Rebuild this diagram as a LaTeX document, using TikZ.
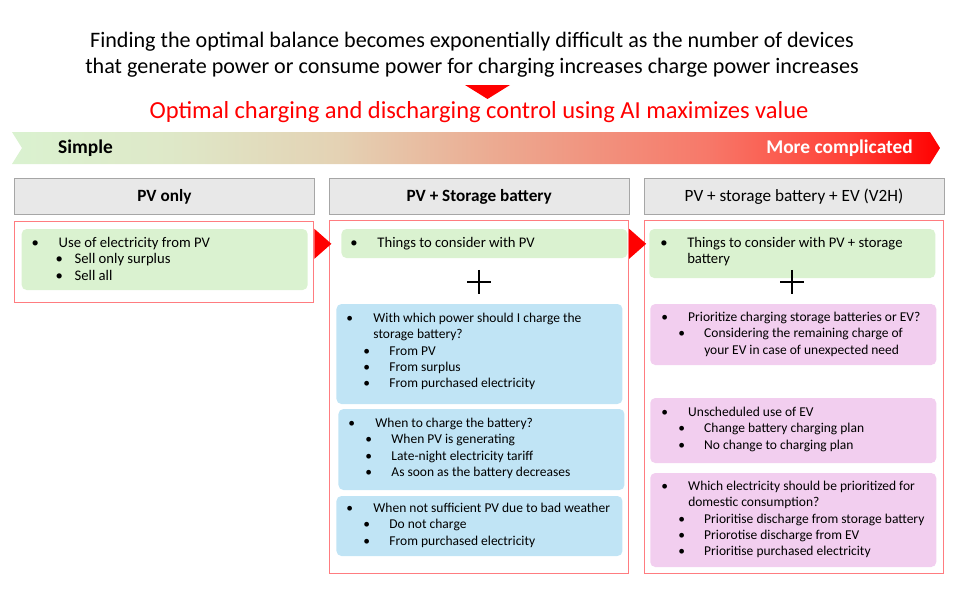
\documentclass[tikz,border=0pt]{standalone}
\usepackage{fontspec}
\setmainfont{Carlito}
\usetikzlibrary{positioning, calc}

\definecolor{boxgreen}{HTML}{DAF2D0}
\definecolor{boxblue}{HTML}{C0E4F5}
\definecolor{boxpink}{HTML}{F2CEEF}
\definecolor{headgray}{HTML}{E8E8E8}
\definecolor{headline}{HTML}{A6A6A6}
\definecolor{framered}{HTML}{FF7C80}

% complexity gradient (path is fitted to 25bp..75bp)
\pgfdeclarehorizontalshading{complexity}{100bp}{
    rgb(0bp)=(0.855,0.949,0.816);
    rgb(25bp)=(0.855,0.949,0.816);
    rgb(33.5bp)=(0.871,0.910,0.784);
    rgb(42.5bp)=(0.894,0.824,0.706);
    rgb(51bp)=(0.925,0.667,0.569);
    rgb(62.5bp)=(0.969,0.471,0.412);
    rgb(70bp)=(1,0.255,0.216);
    rgb(75bp)=(1,0,0);
    rgb(100bp)=(1,0,0)}

% bullet lines
\newcommand\itm[1]{\makebox[27pt][l]{\textbullet}#1}
\newcommand\subitm[2][17pt]{\hspace*{#1}\makebox[\dimexpr43pt-#1\relax][l]{\textbullet}#2}
\newcommand\cont[1]{\hspace*{27pt}#1}
\newcommand\subcont[1]{\hspace*{43pt}#1}

\tikzset{
    head/.style={
        rectangle, draw=headline, fill=headgray, line width=0.8pt,
        minimum width=300pt, minimum height=36pt, inner sep=0pt,
        text height=13pt, text depth=2pt,
        font=\fontsize{17.2}{20}\selectfont
    },
    stagebox/.style={
        rectangle, draw=framered, line width=0.9pt,
        minimum width=299pt, inner sep=0pt
    },
    card/.style={
        rectangle, rounded corners=5pt, fill=#1,
        minimum width=286pt, inner sep=0pt, anchor=north west
    },
    body/.style={
        font=\fontsize{#1}{16.3}\selectfont,
        align=left, inner sep=0pt, anchor=north west
    },
    body/.default=14.67,
    barlabel/.style={font=\fontsize{19.4}{23}\selectfont\bfseries, inner sep=0pt},
    plus/.style={line width=1.6pt}
}

\begin{document}
\begin{tikzpicture}[x=1pt, y=-1pt, node distance=14pt]
    \useasboundingbox (0,0) rectangle (960,600);

    % Title and claim
    \node[font=\fontsize{22.1}{26}\selectfont, align=center, anchor=north, inner sep=0pt] (title) at (472,29)
        {\strut Finding the optimal balance becomes exponentially difficult as the number of devices\\
         that generate power or consume power for charging increases charge power increases};
    \fill[red] (465,85) -- (510,85) -- (487.5,99) -- cycle;
    \node[font=\fontsize{24.5}{29}\selectfont, text=red, anchor=base, inner sep=0pt] (claim) at (479,118)
        {Optimal charging and discharging control using AI maximizes value};

    % Complexity bar
    \shade[shading=complexity]
        (12,132) -- (930,132) -- (940,148) -- (930,164) -- (12,164) -- (22,148) -- cycle;
    \node[barlabel, anchor=base west] (simple) at (58,153) {Simple};
    \node[barlabel, text=white, anchor=base east] (complex) at (913,153) {More complicated};

    % Stage headers
    \node[head, anchor=north west] (h1) at (14,178) {\bfseries PV only};
    \node[head, right=of h1] (h2) {\bfseries PV + Storage battery};
    \node[head, right=of h2] (h3) {PV + storage battery + EV (V2H)};

    % Stage frames
    \node[stagebox, minimum height=81pt, below=6pt of h1] (c1) {};
    \node[stagebox, minimum height=353pt, below=5pt of h2] (c2) {};
    \node[stagebox, minimum height=353pt, below=5pt of h3] (c3) {};

    % Arrows between stages
    \fill[red] ($(c1.north east)+(0,8)$) -- ++(17,15) -- ++(-17,15) -- cycle;
    \fill[red] ($(c2.north east)+(0,9)$) -- ++(17,15) -- ++(-17,15) -- cycle;

    % Stage 1
    \node[card=boxgreen, minimum height=61pt] (g1) at ($(c1.north west)+(7,8)$) {};
    \node[body] (g1-text) at ($(g1.north west)+(10,7)$)
        {\strut\itm{Use of electricity from PV}\\
         \subitm[24pt]{Sell only surplus}\\
         \subitm[24pt]{Sell all}};

    % Stage 2
    \node[card=boxgreen, minimum height=29pt] (g2) at ($(c2.north west)+(12,9)$) {};
    \node[body] (g2-text) at ($(g2.north west)+(9,7)$)
        {\strut\itm{Things to consider with PV}};
    \coordinate (plus2) at ($(c2.north)+(0,62)$);
    \draw[plus] (plus2) ++(-12,0) -- ++(24,0) (plus2) ++(0,-12) -- ++(0,24);

    \node[card=boxblue, minimum height=100pt] (b1) at ($(c2.north west)+(7,84)$) {};
    \node[body=13.5] (b1-text) at ($(b1.north west)+(10,7)$)
        {\strut\itm{With which power should I charge the}\\
         \cont{storage battery?}\\
         \subitm{From PV}\\
         \subitm{From surplus}\\
         \subitm{From purchased electricity}};

    \node[card=boxblue, minimum height=81pt] (b2) at ($(c2.north west)+(9,189)$) {};
    \node[body=13.5] (b2-text) at ($(b2.north west)+(10,7)$)
        {\strut\itm{When to charge the battery?}\\
         \subitm{When PV is generating}\\
         \subitm{Late-night electricity tariff}\\
         \subitm{As soon as the battery decreases}};

    \node[card=boxblue, minimum height=60pt] (b3) at ($(c2.north west)+(7,276)$) {};
    \node[body=13.5] (b3-text) at ($(b3.north west)+(10,5)$)
        {\strut\itm{When not sufficient PV due to bad weather}\\
         \subitm{Do not charge}\\
         \subitm{From purchased electricity}};

    % Stage 3
    \node[card=boxgreen, minimum height=49pt] (g3) at ($(c3.north west)+(5,9)$) {};
    \node[body] (g3-text) at ($(g3.north west)+(11,7)$)
        {\strut\itm{Things to consider with PV + storage}\\
         \cont{battery}};
    \coordinate (plus3) at ($(c3.north)+(-2,62)$);
    \draw[plus] (plus3) ++(-12,0) -- ++(24,0) (plus3) ++(0,-12) -- ++(0,24);

    \node[card=boxpink, minimum height=61pt] (p1) at ($(c3.north west)+(6,84)$) {};
    \node[body=13.5] (p1-text) at ($(p1.north west)+(11,6)$)
        {\strut\itm{Prioritize charging storage batteries or EV?}\\
         \subitm{Considering the remaining charge of}\\
         \subcont{your EV in case of unexpected need}};

    \node[card=boxpink, minimum height=65pt] (p2) at ($(c3.north west)+(6,178)$) {};
    \node[body=13.5] (p2-text) at ($(p2.north west)+(11,7)$)
        {\strut\itm{Unscheduled use of EV}\\
         \subitm{Change battery charging plan}\\
         \subitm{No change to charging plan}};

    \node[card=boxpink, minimum height=94pt] (p3) at ($(c3.north west)+(6,253)$) {};
    \node[body=13.5] (p3-text) at ($(p3.north west)+(11,6)$)
        {\strut\itm{Which electricity should be prioritized for}\\
         \cont{domestic consumption?}\\
         \subitm{Prioritise discharge from storage battery}\\
         \subitm{Priorotise discharge from EV}\\
         \subitm{Prioritise purchased electricity}};

\end{tikzpicture}
\end{document}
